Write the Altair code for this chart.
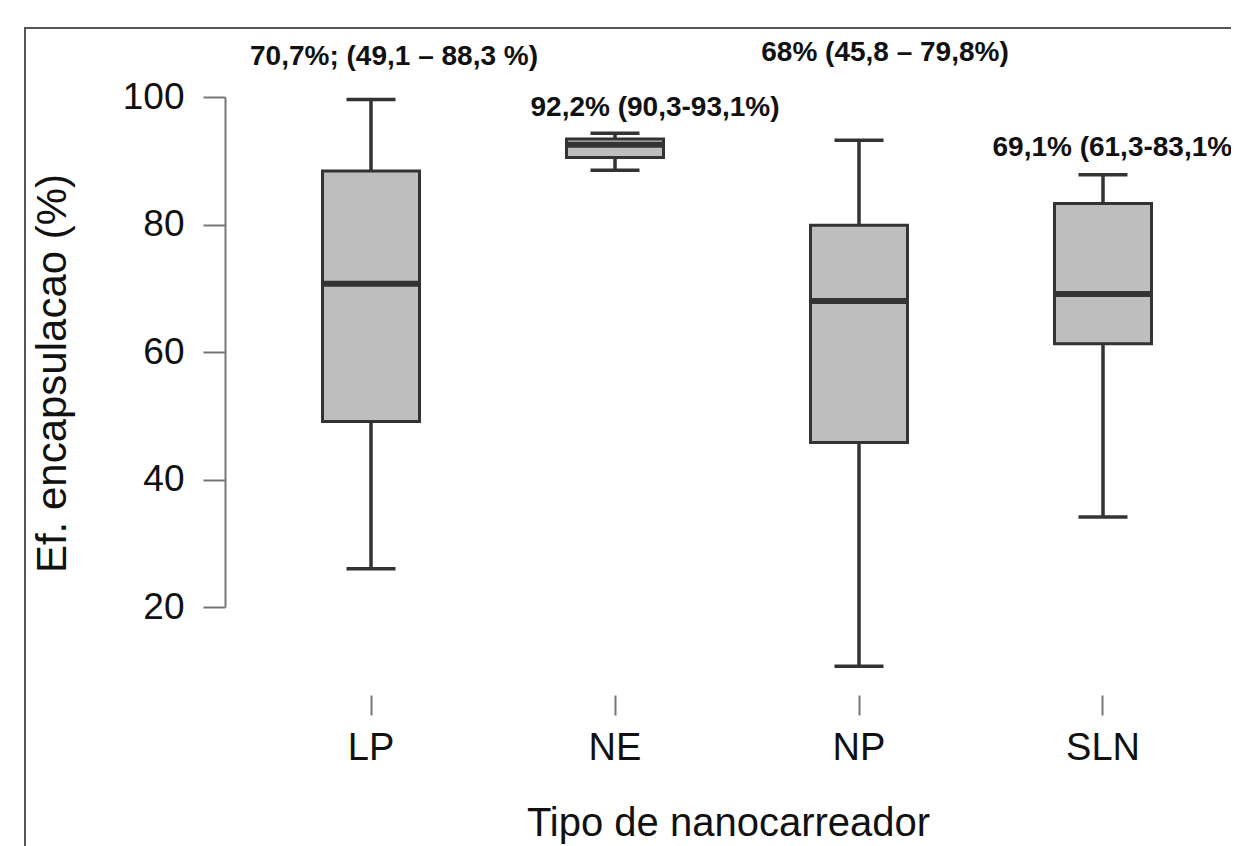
import altair as alt
import pandas as pd

# ---- data ----
categories = ["LP", "NE", "NP", "SLN"]
whisker_low = [26.0, 88.5, 10.7, 34.1]
q1 = [49.1, 90.5, 45.8, 61.3]
median = [70.7, 92.5, 68.0, 69.1]
q3 = [88.4, 93.4, 79.9, 83.3]
whisker_high = [99.6, 94.3, 93.2, 87.8]
annotations = [
    "70,7%;  (49,1 – 88,3 %)",
    "92,2% (90,3-93,1%)",
    "68% (45,8 – 79,8%)",
    "69,1% (61,3-83,1%)",
]
y_ticks = [20, 40, 60, 80, 100]

df = pd.DataFrame({
    "cat": categories,
    "lo": whisker_low,
    "q1": q1,
    "med": median,
    "q3": q3,
    "hi": whisker_high,
    "label": annotations,
})

FONT = "Liberation Sans"
LINE = "#333333"
FILL = "#BEBEBE"
AXIS = "#777777"

W, H = 1006, 510

xscale = alt.Scale(domain=categories, paddingInner=0, paddingOuter=0.0615, align=0.8)
yscale = alt.Scale(domain=[20, 100], nice=False, zero=False)

x_axis = alt.Axis(
    domain=False, ticks=True, tickSize=20, tickWidth=2, tickColor=AXIS, grid=False,
    offset=88, labelFont=FONT, labelFontSize=38, labelColor="#111111",
    labelPadding=14, labelAngle=0,
    title="Tipo de nanocarreador", titleFont=FONT, titleFontSize=40,
    titleFontWeight="normal", titleColor="#111111",
    titleBaseline="alphabetic", titleY=140,
)
y_axis = alt.Axis(
    values=y_ticks, grid=False, domainColor=AXIS, domainWidth=2,
    tickSize=22, tickWidth=2, tickColor=AXIS,
    labelFont=FONT, labelFontSize=37, labelColor="#111111", labelPadding=19,
    title="Ef. encapsulacao (%)", titleFont=FONT, titleFontSize=42,
    titleFontWeight="normal", titleColor="#111111",
    titleX=-173, titleY=276, titleBaseline="middle", titleAlign="center",
)

base = alt.Chart(df)
X = alt.X("cat:N", scale=xscale, axis=x_axis, sort=categories)

whisk_lo = base.mark_rule(color=LINE, strokeWidth=3.5).encode(
    x=X, y=alt.Y("lo:Q", scale=yscale, axis=y_axis), y2="q1:Q")
whisk_hi = base.mark_rule(color=LINE, strokeWidth=3.5).encode(
    x=X, y=alt.Y("q3:Q", scale=yscale, axis=y_axis), y2="hi:Q")
box = base.mark_bar(size=97, fill=FILL, stroke=LINE, strokeWidth=3).encode(
    x=X, y=alt.Y("q1:Q", scale=yscale, axis=y_axis), y2="q3:Q")
med = base.mark_tick(orient="horizontal", size=97, thickness=6, color=LINE, opacity=1).encode(
    x=X, y=alt.Y("med:Q", scale=yscale, axis=y_axis))
cap_lo = base.mark_tick(orient="horizontal", size=49, thickness=3.5, color=LINE, opacity=1).encode(
    x=X, y=alt.Y("lo:Q", scale=yscale, axis=y_axis))
cap_hi = base.mark_tick(orient="horizontal", size=49, thickness=3.5, color=LINE, opacity=1).encode(
    x=X, y=alt.Y("hi:Q", scale=yscale, axis=y_axis))

one = alt.Data(values=[{"f": 1}])
frame_left = alt.Chart(one).mark_rule(color="#555555", strokeWidth=2).encode(
    x=alt.value(-200), y=alt.value(-69), y2=alt.value(800))
frame_top = alt.Chart(one).mark_rule(color="#555555", strokeWidth=2).encode(
    x=alt.value(-201), x2=alt.value(1100), y=alt.value(-69))


def label(i, dx, ypix):
    return alt.Chart(df.iloc[[i]]).mark_text(
        font=FONT, fontSize=28, fontWeight="bold", color="#111111",
        baseline="middle", align="center", dx=dx).encode(
        x=X, y=alt.value(ypix), text="label:N")


labels = [
    label(0, 23, -40),
    label(1, 40, 11),
    label(2, 26, -44),
    label(3, 14, 51),
]

chart = alt.layer(frame_left, frame_top, whisk_lo, whisk_hi, box, med, cap_lo, cap_hi, *labels).properties(
    width=W, height=H,
    background="white",
    autosize=alt.AutoSizeParams(type="none"),
    padding={"left": 217, "top": 89, "right": 0, "bottom": 239},
).configure_view(strokeWidth=0, strokeOpacity=0).configure_axis(grid=False)

chart.save("out.html", embed_options={"renderer": "svg", "actions": False})
